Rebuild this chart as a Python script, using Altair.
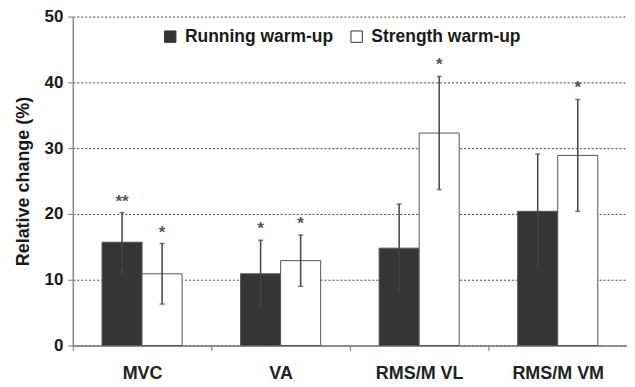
import altair as alt
import pandas as pd

categories = ["MVC", "VA", "RMS/M VL", "RMS/M VM"]
series = ["Running warm-up", "Strength warm-up"]
running_mean = [15.7, 10.9, 14.8, 20.4]
running_sd = [4.5, 5.1, 6.7, 8.7]
strength_mean = [10.9, 12.9, 32.3, 28.9]
strength_sd = [4.6, 3.9, 8.6, 8.5]
running_sig = ["**", "*", "", ""]
strength_sig = ["*", "*", "*", "*"]

rows = []
for i, c in enumerate(categories):
    rows.append(dict(cat=c, series=series[0], mean=running_mean[i],
                     lo=running_mean[i] - running_sd[i], hi=running_mean[i] + running_sd[i],
                     sig=running_sig[i]))
    rows.append(dict(cat=c, series=series[1], mean=strength_mean[i],
                     lo=strength_mean[i] - strength_sd[i], hi=strength_mean[i] + strength_sd[i],
                     sig=strength_sig[i]))
df = pd.DataFrame(rows)

FONT = "Liberation Sans"

x = alt.X("cat:N", sort=categories, title=None,
          scale=alt.Scale(paddingInner=0, paddingOuter=0),
          axis=alt.Axis(labelAngle=0, tickBand="extent", labelFont=FONT, labelFontSize=18,
                        labelFontWeight="bold", labelColor="#222", labelPadding=14,
                        tickColor="#777", tickSize=5, domainColor="#777", domainWidth=1.5))
xo = alt.XOffset("series:N", sort=series,
                 scale=alt.Scale(paddingInner=0, paddingOuter=0.73))
yscale = alt.Scale(domain=[0, 50], nice=False)

base = alt.Chart(df)

bars = base.mark_bar(stroke="#555", strokeWidth=1).encode(
    x=x, xOffset=xo,
    y=alt.Y("mean:Q", scale=yscale, title="Relative change (%)",
            axis=alt.Axis(values=[0, 10, 20, 30, 40, 50], grid=True, gridDash=[2, 2],
                          gridColor="#444", gridWidth=1, labelFont=FONT, labelFontSize=17,
                          labelFontWeight="bold", labelColor="#1a1a1a", labelPadding=5,
                          tickColor="#777", tickSize=5, domainColor="#888", domainWidth=1.5,
                          titleFont=FONT, titleFontSize=18, titleFontWeight="bold",
                          titleColor="#1a1a1a", titlePadding=12)),
    fill=alt.Fill("series:N", sort=series, title=None,
                  scale=alt.Scale(domain=series, range=["#353535", "#ffffff"]),
                  legend=alt.Legend(orient="none", legendX=89, legendY=11, direction="horizontal",
                                    symbolType="square", symbolSize=130, symbolStrokeColor="#333",
                                    symbolStrokeWidth=1, labelFont=FONT, labelFontSize=17.5,
                                    labelFontWeight="bold", labelColor="#1a1a1a", columnPadding=14,
                                    labelLimit=300, labelOffset=6, symbolOffset=0)),
)

rules = base.mark_rule(color="#444", strokeWidth=1.5).encode(
    x=x, xOffset=xo, y=alt.Y("lo:Q", scale=yscale), y2="hi:Q")

caps_lo = base.mark_tick(color="#444", size=5, thickness=1.5).encode(
    x=x, xOffset=xo, y=alt.Y("lo:Q", scale=yscale))
caps_hi = base.mark_tick(color="#444", size=5, thickness=1.5).encode(
    x=x, xOffset=xo, y=alt.Y("hi:Q", scale=yscale))

stars = base.transform_filter(alt.datum.sig != "").mark_text(
    font=FONT, fontSize=17, fontWeight="bold", color="#555", baseline="middle", dy=-11).encode(
    x=x, xOffset=xo, y=alt.Y("hi:Q", scale=yscale), text="sig:N")

chart = alt.layer(bars, rules, caps_lo, caps_hi, stars).properties(
    width=556, height=330,
    autosize=alt.AutoSizeParams(type="none"),
    padding={"left": 65, "top": 8, "right": 0, "bottom": 40},
).configure_view(stroke=None).configure_axis(labelFont=FONT)

chart.save("out.html", embed_options={"renderer": "svg", "actions": False})
